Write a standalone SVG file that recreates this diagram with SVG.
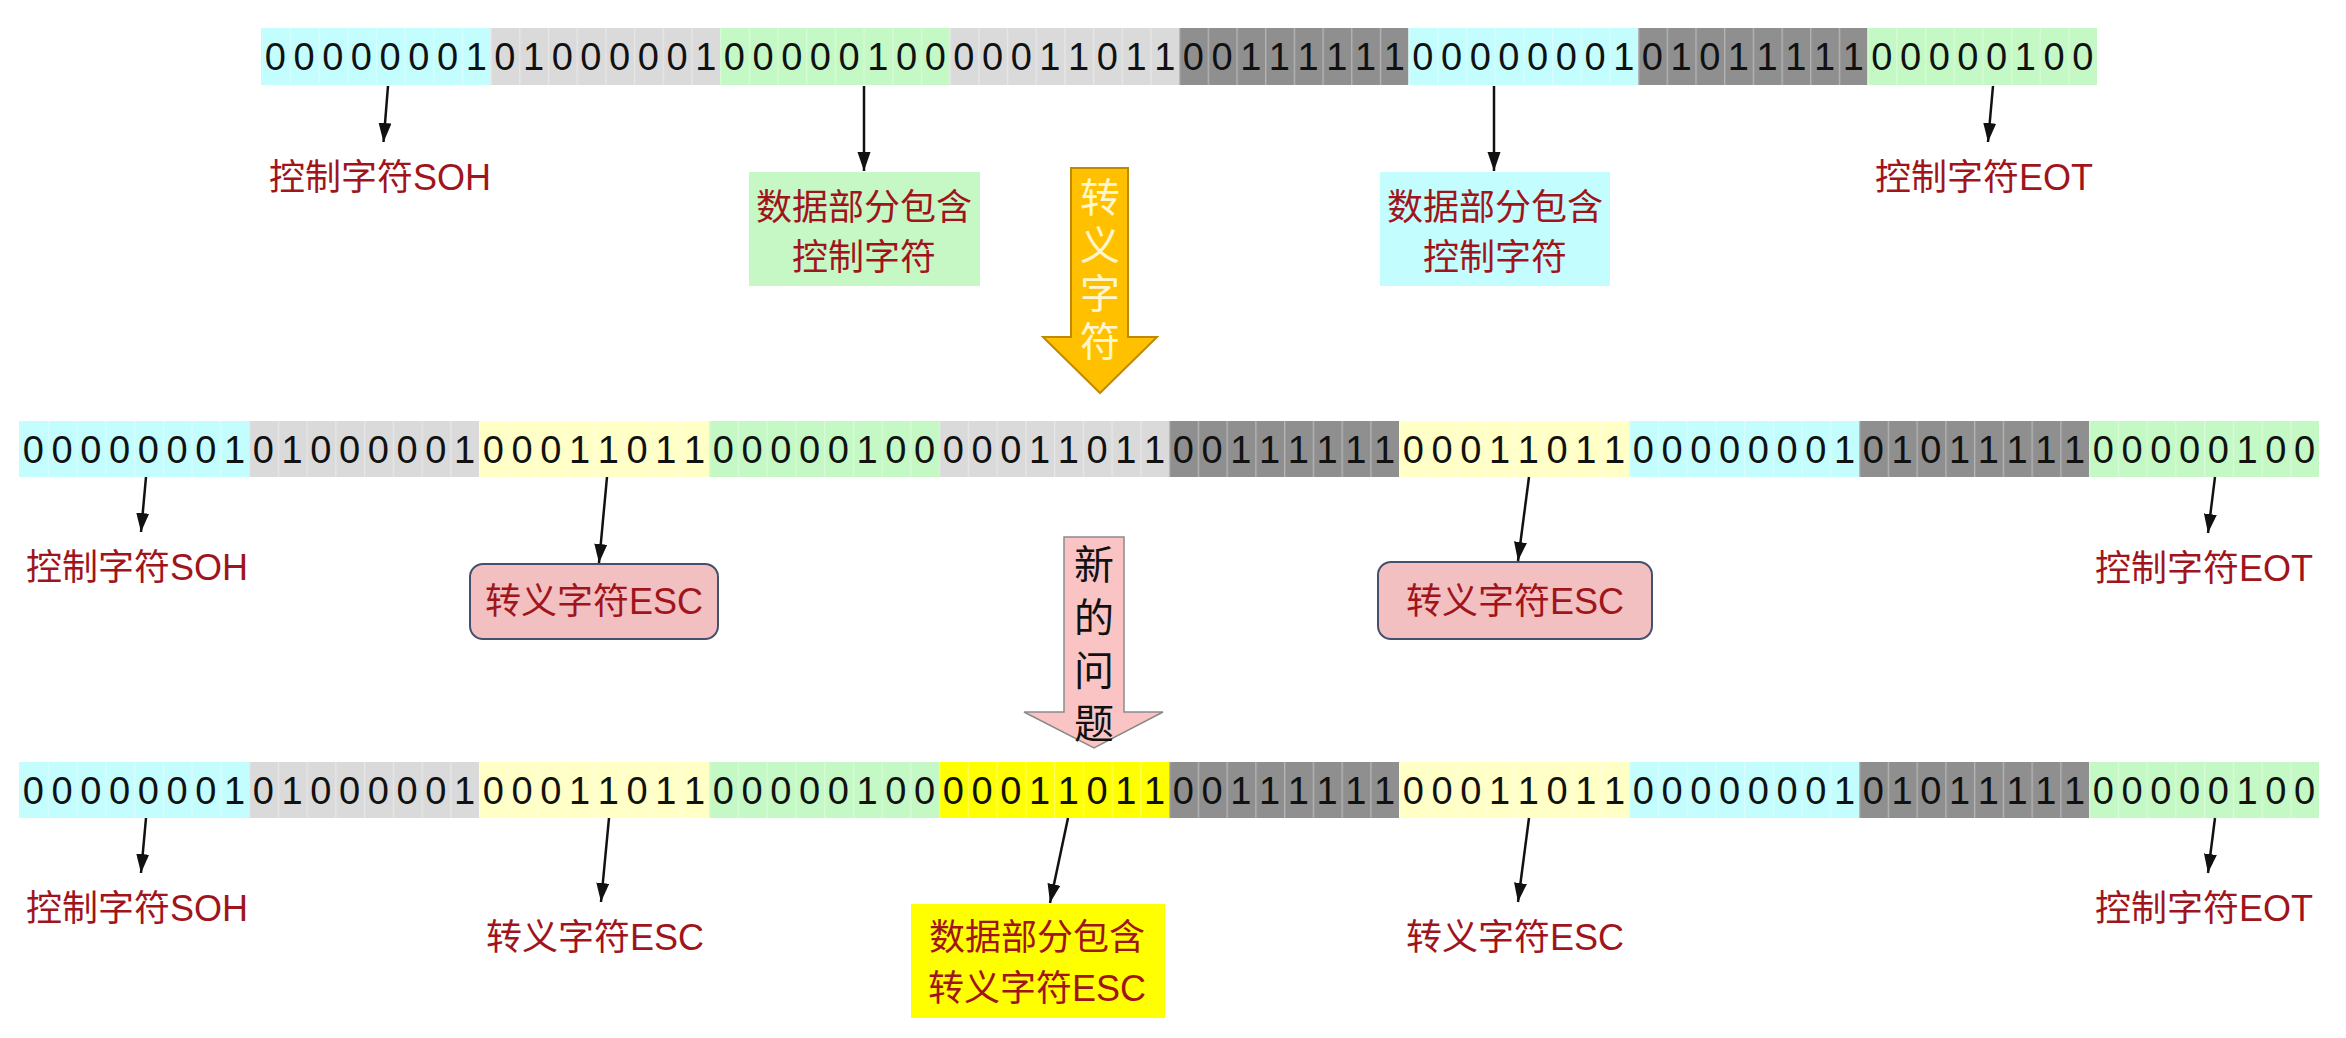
<svg xmlns="http://www.w3.org/2000/svg" width="2346" height="1038" viewBox="0 0 2346 1038">
<style>
.cy{fill:#c4fdfd}.lg{fill:#dadada}.gr{fill:#c4f8c4}.dg{fill:#8f8f8f}.ly{fill:#ffffc6}.by{fill:#ffff00}
.dig{font-family:"Liberation Sans","DejaVu Sans",sans-serif;font-size:38px;fill:#111;text-anchor:middle}
.lbl{font-family:"Liberation Sans","Noto Sans CJK SC",sans-serif;font-size:36px;fill:#a0151c;text-anchor:middle}
.pbox{fill:#f2c0c1;stroke:#44506e;stroke-width:2}
.conn line{stroke:#111;stroke-width:2.5;marker-end:url(#ah)}
.vt{font-family:"Noto Sans CJK SC","Liberation Sans",sans-serif;font-size:40px;text-anchor:middle;writing-mode:vertical-rl}
</style>
<defs>
<marker id="ah" markerUnits="userSpaceOnUse" markerWidth="20" markerHeight="14" refX="19" refY="6.5" orient="auto">
<path d="M0,0 L19,6.5 L0,13 z" fill="#111"/>
</marker>
<pattern id="sep1" patternUnits="userSpaceOnUse" x="261" y="28" width="28.6875" height="57">
<rect x="0" y="0" width="1.3" height="57" fill="#fff" fill-opacity="0.35"/>
</pattern>
<pattern id="sep2" patternUnits="userSpaceOnUse" x="19" y="421" width="28.75" height="56">
<rect x="0" y="0" width="1.3" height="56" fill="#fff" fill-opacity="0.35"/>
</pattern>
<pattern id="sep3" patternUnits="userSpaceOnUse" x="19" y="762" width="28.75" height="56">
<rect x="0" y="0" width="1.3" height="56" fill="#fff" fill-opacity="0.35"/>
</pattern>
</defs>
<rect width="2346" height="1038" fill="#ffffff"/>

<!-- Row 1 -->
<g id="row1">
<g id="r1b1" transform="translate(261,28)"><rect class="cy" width="229.5" height="57"/><text class="dig" x="14.3 43 71.7 100.4 129.1 157.8 186.5 215.2" y="42">00000001</text></g>
<g id="r1b2" transform="translate(490.5,28)"><rect class="lg" width="229.5" height="57"/><text class="dig" x="14.3 43 71.7 100.4 129.1 157.8 186.5 215.2" y="42">01000001</text></g>
<g id="r1b3" transform="translate(720,28)"><rect class="gr" width="229.5" height="57"/><text class="dig" x="14.3 43 71.7 100.4 129.1 157.8 186.5 215.2" y="42">00000100</text></g>
<g id="r1b4" transform="translate(949.5,28)"><rect class="lg" width="229.5" height="57"/><text class="dig" x="14.3 43 71.7 100.4 129.1 157.8 186.5 215.2" y="42">00011011</text></g>
<g id="r1b5" transform="translate(1179,28)"><rect class="dg" width="229.5" height="57"/><text class="dig" x="14.3 43 71.7 100.4 129.1 157.8 186.5 215.2" y="42">00111111</text></g>
<g id="r1b6" transform="translate(1408.5,28)"><rect class="cy" width="229.5" height="57"/><text class="dig" x="14.3 43 71.7 100.4 129.1 157.8 186.5 215.2" y="42">00000001</text></g>
<g id="r1b7" transform="translate(1638,28)"><rect class="dg" width="229.5" height="57"/><text class="dig" x="14.3 43 71.7 100.4 129.1 157.8 186.5 215.2" y="42">01011111</text></g>
<g id="r1b8" transform="translate(1867.5,28)"><rect class="gr" width="229.5" height="57"/><text class="dig" x="14.3 43 71.7 100.4 129.1 157.8 186.5 215.2" y="42">00000100</text></g>
<rect x="262" y="28" width="1834" height="57" fill="url(#sep1)"/>
</g>

<!-- Row 2 -->
<g id="row2">
<g id="r2b1" transform="translate(19,421)"><rect class="cy" width="230" height="56"/><text class="dig" x="14.4 43.1 71.9 100.6 129.4 158.1 186.9 215.6" y="42">00000001</text></g>
<g id="r2b2" transform="translate(249,421)"><rect class="lg" width="230" height="56"/><text class="dig" x="14.4 43.1 71.9 100.6 129.4 158.1 186.9 215.6" y="42">01000001</text></g>
<g id="r2b3" transform="translate(479,421)"><rect class="ly" width="230" height="56"/><text class="dig" x="14.4 43.1 71.9 100.6 129.4 158.1 186.9 215.6" y="42">00011011</text></g>
<g id="r2b4" transform="translate(709,421)"><rect class="gr" width="230" height="56"/><text class="dig" x="14.4 43.1 71.9 100.6 129.4 158.1 186.9 215.6" y="42">00000100</text></g>
<g id="r2b5" transform="translate(939,421)"><rect class="lg" width="230" height="56"/><text class="dig" x="14.4 43.1 71.9 100.6 129.4 158.1 186.9 215.6" y="42">00011011</text></g>
<g id="r2b6" transform="translate(1169,421)"><rect class="dg" width="230" height="56"/><text class="dig" x="14.4 43.1 71.9 100.6 129.4 158.1 186.9 215.6" y="42">00111111</text></g>
<g id="r2b7" transform="translate(1399,421)"><rect class="ly" width="230" height="56"/><text class="dig" x="14.4 43.1 71.9 100.6 129.4 158.1 186.9 215.6" y="42">00011011</text></g>
<g id="r2b8" transform="translate(1629,421)"><rect class="cy" width="230" height="56"/><text class="dig" x="14.4 43.1 71.9 100.6 129.4 158.1 186.9 215.6" y="42">00000001</text></g>
<g id="r2b9" transform="translate(1859,421)"><rect class="dg" width="230" height="56"/><text class="dig" x="14.4 43.1 71.9 100.6 129.4 158.1 186.9 215.6" y="42">01011111</text></g>
<g id="r2b10" transform="translate(2089,421)"><rect class="gr" width="230" height="56"/><text class="dig" x="14.4 43.1 71.9 100.6 129.4 158.1 186.9 215.6" y="42">00000100</text></g>
<rect x="20" y="421" width="2298" height="56" fill="url(#sep2)"/>
</g>

<!-- Row 3 -->
<g id="row3">
<g id="r3b1" transform="translate(19,762)"><rect class="cy" width="230" height="56"/><text class="dig" x="14.4 43.1 71.9 100.6 129.4 158.1 186.9 215.6" y="42">00000001</text></g>
<g id="r3b2" transform="translate(249,762)"><rect class="lg" width="230" height="56"/><text class="dig" x="14.4 43.1 71.9 100.6 129.4 158.1 186.9 215.6" y="42">01000001</text></g>
<g id="r3b3" transform="translate(479,762)"><rect class="ly" width="230" height="56"/><text class="dig" x="14.4 43.1 71.9 100.6 129.4 158.1 186.9 215.6" y="42">00011011</text></g>
<g id="r3b4" transform="translate(709,762)"><rect class="gr" width="230" height="56"/><text class="dig" x="14.4 43.1 71.9 100.6 129.4 158.1 186.9 215.6" y="42">00000100</text></g>
<g id="r3b5" transform="translate(939,762)"><rect class="by" width="230" height="56"/><text class="dig" x="14.4 43.1 71.9 100.6 129.4 158.1 186.9 215.6" y="42">00011011</text></g>
<g id="r3b6" transform="translate(1169,762)"><rect class="dg" width="230" height="56"/><text class="dig" x="14.4 43.1 71.9 100.6 129.4 158.1 186.9 215.6" y="42">00111111</text></g>
<g id="r3b7" transform="translate(1399,762)"><rect class="ly" width="230" height="56"/><text class="dig" x="14.4 43.1 71.9 100.6 129.4 158.1 186.9 215.6" y="42">00011011</text></g>
<g id="r3b8" transform="translate(1629,762)"><rect class="cy" width="230" height="56"/><text class="dig" x="14.4 43.1 71.9 100.6 129.4 158.1 186.9 215.6" y="42">00000001</text></g>
<g id="r3b9" transform="translate(1859,762)"><rect class="dg" width="230" height="56"/><text class="dig" x="14.4 43.1 71.9 100.6 129.4 158.1 186.9 215.6" y="42">01011111</text></g>
<g id="r3b10" transform="translate(2089,762)"><rect class="gr" width="230" height="56"/><text class="dig" x="14.4 43.1 71.9 100.6 129.4 158.1 186.9 215.6" y="42">00000100</text></g>
<rect x="20" y="762" width="2298" height="56" fill="url(#sep3)"/>
</g>

<!-- Row 1 labels -->
<g id="l1soh"><text class="lbl" x="380" y="190">控制字符SOH</text></g>
<g id="l1data1"><rect x="749" y="172" width="231" height="114" fill="#c6f8c6"/><text class="lbl" x="864" y="220">数据部分包含</text><text class="lbl" x="864" y="270">控制字符</text></g>
<g id="escArrow"><polygon points="1071,168 1128,168 1128,337 1157,337 1100,393 1043,337 1071,337" fill="#ffc000" stroke="#c08a00" stroke-width="2"/>
<text class="vt" fill="#fff6cf" x="1100" y="273" letter-spacing="8">转义字符</text></g>
<g id="l1data2"><rect x="1380" y="172" width="230" height="114" fill="#c4fdfd"/><text class="lbl" x="1495" y="220">数据部分包含</text><text class="lbl" x="1495" y="270">控制字符</text></g>
<g id="l1eot"><text class="lbl" x="1984" y="190">控制字符EOT</text></g>

<!-- Row 2 labels -->
<g id="l2soh"><text class="lbl" x="137" y="580">控制字符SOH</text></g>
<g id="l2esc1"><rect class="pbox" x="470" y="564" width="248" height="75" rx="13"/><text class="lbl" x="594" y="614">转义字符ESC</text></g>
<g id="newArrow"><polygon points="1064,537 1124,537 1124,712 1163,712 1094,748 1024,712 1064,712" fill="#fbc4c4" stroke="#8a8a8a" stroke-width="1.5"/>
<text class="vt" fill="#111" x="1094" y="650" letter-spacing="13">新的问题</text></g>
<g id="l2esc2"><rect class="pbox" x="1378" y="562" width="274" height="77" rx="13"/><text class="lbl" x="1515" y="614">转义字符ESC</text></g>
<g id="l2eot"><text class="lbl" x="2204" y="581">控制字符EOT</text></g>

<!-- Row 3 labels -->
<g id="l3soh"><text class="lbl" x="137" y="921">控制字符SOH</text></g>
<g id="l3esc1"><text class="lbl" x="595" y="950">转义字符ESC</text></g>
<g id="l3data"><rect x="911" y="904" width="254" height="114" fill="#ffff00"/><text class="lbl" x="1037" y="950">数据部分包含</text><text class="lbl" x="1037" y="1001">转义字符ESC</text></g>
<g id="l3esc2"><text class="lbl" x="1515" y="950">转义字符ESC</text></g>
<g id="l3eot"><text class="lbl" x="2204" y="921">控制字符EOT</text></g>

<!-- Connectors -->
<g id="connectors" class="conn">
<line x1="388" y1="86" x2="383.5" y2="142"/>
<line x1="864" y1="86" x2="864" y2="171"/>
<line x1="1494" y1="86" x2="1494" y2="171"/>
<line x1="1993" y1="86" x2="1988" y2="142"/>
<line x1="146" y1="477" x2="141" y2="532"/>
<line x1="607" y1="477" x2="599" y2="563"/>
<line x1="1529" y1="477" x2="1518" y2="561"/>
<line x1="2215" y1="477" x2="2208" y2="533"/>
<line x1="146" y1="818" x2="141" y2="873"/>
<line x1="609" y1="818" x2="601" y2="902"/>
<line x1="1068" y1="818" x2="1050" y2="903"/>
<line x1="1529" y1="818" x2="1518" y2="902"/>
<line x1="2215" y1="818" x2="2208" y2="873"/>
</g>
</svg>
